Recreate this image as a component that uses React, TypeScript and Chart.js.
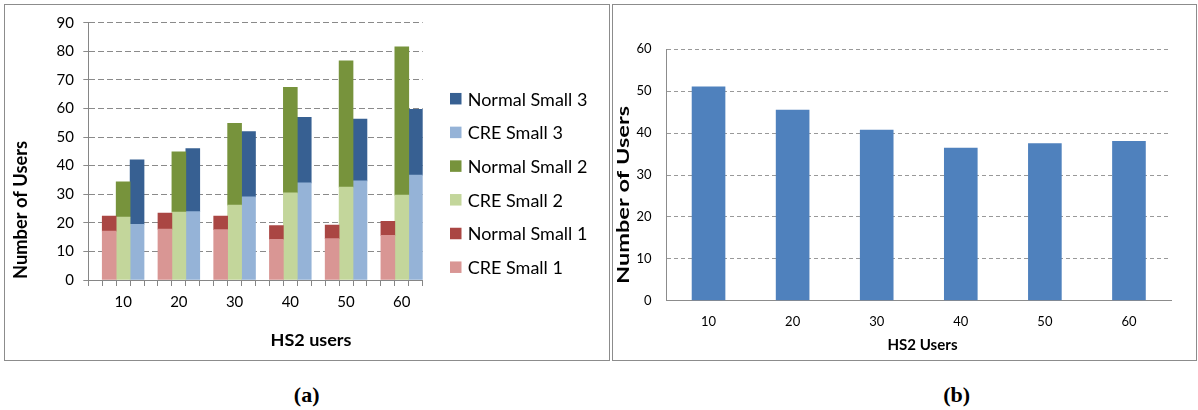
import React, { useEffect, useRef } from "react";
import { Chart, registerables } from "chart.js";

Chart.register(...registerables);

// HS2 user counts on the x axis of both panels
const hs2Users = ["10", "20", "30", "40", "50", "60"];

// Panel (a): stacked segment heights per small cell
const creSmall1 = [17.1, 17.8, 17.6, 14.2, 14.5, 15.6];
const normalSmall1 = [5.3, 5.6, 4.8, 4.8, 4.7, 4.9];
const creSmall2 = [22.0, 23.8, 26.2, 30.5, 32.5, 29.7];
const normalSmall2 = [12.3, 21.0, 28.6, 36.9, 44.2, 51.9];
const creSmall3 = [19.5, 23.9, 29.1, 34.0, 34.7, 36.7];
const normalSmall3 = [22.5, 22.1, 22.8, 22.9, 21.6, 23.0];

// Panel (b): users per HS2 load
const hs2PanelUsers = [51.1, 45.6, 40.8, 36.5, 37.6, 38.1];

const FONT = "Lato, 'Noto Sans', sans-serif";
const SLOTS = 4; // one empty gap slot + three small cells per HS2 group

// Spread a per-group series into the slot it occupies within each group
function spread(values: number[], slot: number): (number | null)[] {
  const out: (number | null)[] = new Array(values.length * SLOTS).fill(null);
  values.forEach((v, i) => {
    out[i * SLOTS + slot] = v;
  });
  return out;
}

type TitleItem = {
  text: string;
  x: number;
  y: number;
  font: string;
  rotate?: boolean;
  length?: number;
};

function makeTitles(items: TitleItem[]) {
  return {
    id: "axisTitles",
    afterDraw(chart: any) {
      const ctx = chart.ctx as CanvasRenderingContext2D;
      for (const t of items) {
        ctx.save();
        ctx.fillStyle = "#000";
        ctx.font = t.font;
        ctx.textAlign = "center";
        ctx.textBaseline = "middle";
        ctx.translate(t.x, t.y);
        if (t.rotate) ctx.rotate(-Math.PI / 2);
        if (t.length) {
          const w = ctx.measureText(t.text).width;
          ctx.scale(t.length / w, 1);
        }
        ctx.fillText(t.text, 0, 0);
        ctx.restore();
      }
    },
  };
}

function makeSideLegend(cfg: { boxX: number; textX: number; y: number; step: number; box: number; font: string }) {
  return {
    id: "sideLegend",
    afterDraw(chart: any) {
      const ctx = chart.ctx as CanvasRenderingContext2D;
      const sets = [...chart.data.datasets].reverse();
      ctx.save();
      ctx.font = cfg.font;
      ctx.textBaseline = "middle";
      ctx.textAlign = "left";
      sets.forEach((ds: any, i: number) => {
        const cy = cfg.y + i * cfg.step;
        ctx.fillStyle = ds.backgroundColor;
        ctx.fillRect(cfg.boxX, cy - cfg.box / 2, cfg.box, cfg.box);
        ctx.fillStyle = "#000";
        ctx.fillText(ds.label, cfg.textX, cy + 1);
      });
      ctx.restore();
    },
  };
}

function PanelA() {
  const ref = useRef<HTMLCanvasElement>(null);
  useEffect(() => {
    const labels = hs2Users.flatMap((u) => ["", "", u, ""]);
    const chart = new Chart(ref.current!, {
      type: "bar",
      data: {
        labels,
        datasets: [
          { label: "CRE Small 1", data: spread(creSmall1, 1), backgroundColor: "#D99694" },
          { label: "Normal Small 1", data: spread(normalSmall1, 1), backgroundColor: "#AA4643" },
          { label: "CRE Small 2", data: spread(creSmall2, 2), backgroundColor: "#C3D69B" },
          { label: "Normal Small 2", data: spread(normalSmall2, 2), backgroundColor: "#77933C" },
          { label: "CRE Small 3", data: spread(creSmall3, 3), backgroundColor: "#95B3D7" },
          { label: "Normal Small 3", data: spread(normalSmall3, 3), backgroundColor: "#376092" },
        ],
      },
      options: {
        responsive: false,
        animation: false,
        layout: { padding: { left: 0, top: 18.7, right: 187.3, bottom: 0 } },
        datasets: { bar: { barPercentage: 1, categoryPercentage: 1, borderWidth: 0 } },
        plugins: { legend: { display: false }, tooltip: { enabled: false } },
        scales: {
          x: {
            stacked: true,
            grid: { offset: true, drawOnChartArea: false, tickLength: 6, color: "#868686" },
            border: { color: "#868686" },
            ticks: {
              autoSkip: false,
              maxRotation: 0,
              padding: 6.7,
              color: "#000",
              font: { family: FONT, size: 15 },
            },
            afterFit: (s: any) => {
              s.height = 81;
            },
          },
          y: {
            stacked: true,
            min: 0,
            max: 90,
            ticks: { stepSize: 10, padding: 9.3, color: "#000", font: { family: FONT, size: 15 } },
            grid: { color: "#8a8a8a", tickLength: 5 },
            border: { color: "#868686", dash: [6, 3] },
            afterFit: (s: any) => {
              s.width = 84.3;
            },
          },
        },
      },
      plugins: [
        makeTitles([
          { text: "Number of Users", x: 16.7, y: 206, font: `bold 18px ${FONT}`, rotate: true, length: 138 },
          { text: "HS2 users", x: 307, y: 337, font: `bold 17px ${FONT}`, length: 81 },
        ]),
        makeSideLegend({ boxX: 446, textX: 463.7, y: 94.7, step: 33.7, box: 11.5, font: `18px ${FONT}` }),
      ],
    } as any);
    return () => chart.destroy();
  }, []);
  return <canvas ref={ref} width={606} height={357} style={{ display: "block", width: 606, height: 357 }} />;
}

function PanelB() {
  const ref = useRef<HTMLCanvasElement>(null);
  useEffect(() => {
    const chart = new Chart(ref.current!, {
      type: "bar",
      data: {
        labels: hs2Users,
        datasets: [{ label: "Number of Users", data: hs2PanelUsers, backgroundColor: "#4F81BD" }],
      },
      options: {
        responsive: false,
        animation: false,
        layout: { padding: { left: 0, top: 45.3, right: 26, bottom: 0 } },
        datasets: { bar: { barPercentage: 0.4, categoryPercentage: 1, borderWidth: 0 } },
        plugins: { legend: { display: false }, tooltip: { enabled: false } },
        scales: {
          x: {
            grid: { display: false, drawTicks: false },
            border: { color: "#8c8c8c" },
            ticks: { padding: 13.5, color: "#000", font: { family: FONT, size: 13 } },
            afterFit: (s: any) => {
              s.height = 60.3;
            },
          },
          y: {
            min: 0,
            max: 60,
            ticks: { stepSize: 10, padding: 15, color: "#000", font: { family: FONT, size: 13 } },
            grid: { color: "#999999", drawTicks: false },
            border: { color: "#8c8c8c", dash: [4, 3] },
            afterFit: (s: any) => {
              s.width = 54.5;
            },
          },
        },
      },
      plugins: [
        makeTitles([
          { text: "Number of Users", x: 12, y: 191, font: `bold 17px ${FONT}`, rotate: true, length: 178 },
          { text: "HS2 Users", x: 310.5, y: 341, font: `bold 16px ${FONT}`, length: 70 },
        ]),
      ],
    } as any);
    return () => chart.destroy();
  }, []);
  return <canvas ref={ref} width={585} height={357} style={{ display: "block", width: 585, height: 357 }} />;
}

const frame: React.CSSProperties = {
  position: "absolute",
  inset: 0,
  border: "1px solid #8c8c8c",
  boxSizing: "border-box",
  pointerEvents: "none",
};

const caption: React.CSSProperties = {
  position: "absolute",
  width: 80,
  marginLeft: -40,
  top: 382,
  textAlign: "center",
  fontFamily: "'Liberation Serif', 'DejaVu Serif', serif",
  fontWeight: "bold",
  fontSize: 22,
  lineHeight: "26px",
  color: "#000",
};

export default function App() {
  return (
    <div>
      <div style={{ position: "absolute", left: 4, top: 4, width: 606, height: 357, background: "#fff" }}>
        <PanelA />
        <div style={frame} />
      </div>
      <div style={{ position: "absolute", left: 612, top: 4, width: 585, height: 357, background: "#fff" }}>
        <PanelB />
        <div style={frame} />
      </div>
      <div style={{ ...caption, left: 306.7 }}>(a)</div>
      <div style={{ ...caption, left: 956.7 }}>(b)</div>
    </div>
  );
}
